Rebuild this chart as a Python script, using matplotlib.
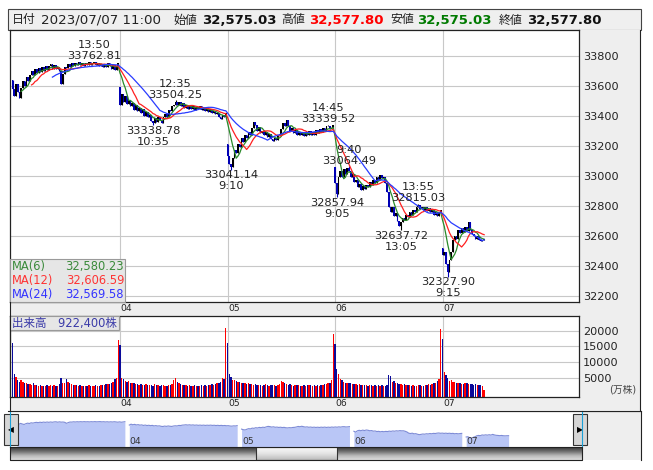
import numpy as np
import matplotlib.pyplot as plt
from matplotlib.patches import Rectangle
from matplotlib.lines import Line2D
from matplotlib.transforms import blended_transform_factory
from matplotlib.colors import LinearSegmentedColormap

plt.rcParams['font.family'] = ['DejaVu Sans', 'Noto Sans CJK JP']

# ---- data: 5-minute bars, 2023/07/03 .. 07/07 11:00 ----
days = ['03', '04', '05', '06', '07']
day_open = [33640, 33590, 33210, 33060, 32520]

close_03 = [33580, 33530, 33610, 33560, 33520, 33585, 33630, 33600, 33660, 33635, 33675,
            33700, 33670, 33710, 33685, 33720, 33695, 33725, 33700, 33730, 33705, 33735,
            33745, 33710, 33740, 33715, 33725, 33700, 33615, 33680, 33725,
            33720, 33745, 33728, 33750, 33735, 33755, 33738, 33758, 33740, 33752,
            33735, 33755, 33740, 33760, 33742, 33750, 33760, 33738, 33752, 33730,
            33748, 33725, 33745, 33728, 33750, 33732, 33712, 33738, 33708, 33730, 33753.33]
close_04 = [33470, 33545, 33495, 33530, 33480, 33505, 33465, 33485, 33440, 33470, 33430, 33455,
            33420, 33445, 33400, 33425, 33390, 33405, 33365, 33350,
            33385, 33360, 33395, 33370, 33355, 33390, 33410, 33395, 33440, 33430, 33465,
            33475, 33495, 33470, 33492, 33465, 33485, 33455,
            33475, 33448, 33468, 33445, 33465, 33440, 33460, 33445, 33465, 33440,
            33455, 33430, 33450, 33425, 33445, 33420, 33435, 33410, 33420, 33390, 33380,
            33405, 33395, 33422.52]
close_05 = [33130, 33080, 33060, 33120, 33170, 33150, 33215, 33195, 33250, 33225,
            33275, 33250, 33290, 33270, 33320, 33360, 33340, 33300, 33325, 33285, 33300, 33270,
            33290, 33260, 33280, 33245, 33230, 33255, 33240, 33270, 33280,
            33310, 33355, 33330, 33370, 33335,
            33300, 33320, 33285, 33305, 33275, 33295, 33270, 33290, 33268, 33295, 33275,
            33300, 33270, 33295, 33275, 33305, 33285, 33310, 33290, 33320, 33300, 33330,
            33335, 33310, 33320, 33338.70]
close_06 = [32950, 32880, 32990, 33030, 32995, 33045, 33010, 33055, 33035,
            32990, 33010, 32960, 32975, 32925, 32945, 32905, 32935, 32910, 32940,
            32925, 32960, 32940, 32975, 32955, 32990, 32970, 33005, 32985, 32990, 32950, 32890,
            32790, 32760, 32790, 32735, 32750, 32700, 32665, 32690,
            32720, 32705, 32740, 32725, 32760, 32740, 32775, 32760, 32790, 32805,
            32780, 32795, 32770, 32790, 32765, 32785, 32760, 32775, 32740, 32760, 32735,
            32755, 32773.02]
close_07 = [32470, 32490, 32410, 32360, 32440, 32490, 32570, 32600, 32580, 32640, 32620,
            32650, 32625, 32660, 32630, 32690, 32640, 32610, 32600, 32580, 32600, 32575,
            32565, 32575.03, 32577.80]

vol_03 = [16200, 6400, 5300, 4400, 3900, 4300, 3700, 3500, 3300, 3100, 3000, 2900, 3300, 2800,
          2700, 2600, 2700, 2600, 2500, 2600, 2700, 2500, 2900, 2600, 2800, 2500, 2600, 3000,
          4900, 3300, 3600,
          4600, 3900, 3400, 3000, 2900, 2800, 2700, 2600, 2700, 2500, 2600, 2600, 2500, 2700,
          2600, 2500, 2600, 2700, 2500, 2600, 2800, 2700, 2900, 3000, 3200, 3100, 3500, 3900,
          4600, 5000, 17000]
vol_04 = [15500, 5000, 4600, 4200, 3900, 4100, 3600, 3400, 3300, 3000, 3200, 2900, 3000, 2800,
          2900, 3000, 2700, 2800, 2900, 2600, 3100, 2800, 2700, 2600, 2800, 2700, 2500, 2600,
          2700, 2900, 3100,
          4300, 4900, 3900, 3300, 3000, 2900, 2800, 2700, 2600, 2800, 2600, 2500, 2700, 2600,
          2500, 2600, 2800, 2500, 2700, 2600, 2800, 2900, 3000, 2800, 3100, 3300, 3500, 3900,
          4900, 4600, 20800]
vol_05 = [16000, 6400, 5200, 4500, 4300, 4100, 3800, 3900, 3600, 3400, 3300, 3200, 3500, 3100,
          3000, 2900, 3000, 2800, 2700, 2900, 2600, 2800, 3000, 2700, 2600, 2800, 2700, 2900,
          2600, 2800, 3000,
          4200, 3800, 3300, 3000, 2900, 3100, 2700, 2600, 2800, 2900, 2700, 2600, 2500, 2700,
          2600, 2800, 2900, 2700, 2600, 2800, 2500, 2700, 2600, 2900, 2800, 3100, 3000, 3300,
          3600, 4300, 19000]
vol_06 = [15800, 8000, 6400, 4800, 4300, 3800, 3600, 3500, 3400, 3300, 3100, 3000, 3200, 2900,
          3000, 2800, 2900, 2700, 2800, 2600, 2700, 2800, 2600, 2700, 2500, 2800, 2600, 2700,
          2500, 2600, 2900,
          5900, 5600, 3900, 4200, 3600, 3400, 3100, 3200, 2900, 3000, 2800, 2700, 2900, 2600,
          2700, 2500, 2600, 2800, 2700, 2500, 2600, 2700, 2900, 3000, 2800, 3200, 3400, 3300,
          4000, 4800, 20500]
vol_07 = [17400, 7000, 5900, 4900, 4200, 4300, 3900, 3700, 3500, 3600, 3300, 3200, 3100, 3400,
          3300, 3000, 3200, 3100, 2900, 3000, 2800, 2900, 2700, 2600, 1300]

# marked highs / lows: (day, time, price, kind)
marks = [('03', '13:50', 33762.81, 'high'), ('04', '10:35', 33338.78, 'low'),
         ('04', '12:35', 33504.25, 'high'), ('05', '9:10', 33041.14, 'low'),
         ('05', '14:45', 33339.52, 'high'), ('06', '9:05', 32857.94, 'low'),
         ('06', '9:40', 33064.49, 'high'), ('06', '13:05', 32637.72, 'low'),
         ('06', '13:55', 32815.03, 'high'), ('07', '9:15', 32327.90, 'low')]

ma_periods = [6, 12, 24]
ma_colors = ['#2a8a2a', '#ff2020', '#2a3cff']
ma_text_colors = ['#3a8a3a', '#ff3333', '#3333ff']
ma_last = ['32,580.23', '32,606.59', '32,569.58']

price_ticks = [32200, 32400, 32600, 32800, 33000, 33200, 33400, 33600, 33800]
vol_ticks = [5000, 10000, 15000, 20000]

header = [(12, '日付', 8.6, 'normal', '#222222'),
          (41, '2023/07/07 11:00', 9.6, 'normal', '#222222'),
          (173, '始値', 8.6, 'normal', '#222222'),
          (202, '32,575.03', 9.5, 'bold', '#111111'),
          (281, '高値', 8.6, 'normal', '#222222'),
          (309, '32,577.80', 9.5, 'bold', '#ff0000'),
          (390, '安値', 8.6, 'normal', '#222222'),
          (417, '32,575.03', 9.5, 'bold', '#007a00'),
          (499, '終値', 8.6, 'normal', '#222222'),
          (527, '32,577.80', 9.5, 'bold', '#111111')]

# ---- derived series ----
closes = [close_03, close_04, close_05, close_06, close_07]
vols = [vol_03, vol_04, vol_05, vol_06, vol_07]
close = np.concatenate([np.array(c, float) for c in closes])
vol = np.concatenate([np.array(v, float) for v in vols])
n = len(close)
xi = np.arange(n)
day_start = np.cumsum([0] + [len(c) for c in closes[:-1]])

opens = np.r_[np.nan, close[:-1]]
opens[day_start] = day_open
hi = np.maximum(opens, close)
lo = np.minimum(opens, close)

slots = [f"{t // 60}:{t % 60:02d}" for t in list(range(540, 691, 5)) + list(range(750, 901, 5))]
mark_idx = []
for d, t, p, kind in marks:
    i = day_start[days.index(d)] + slots.index(t)
    mark_idx.append(i)
    if kind == 'high':
        hi[i] = p
    else:
        lo[i] = p

up = close >= opens
candle_col = np.where(up, '#000000', '#0000b4')
vol_col = np.where(up, '#ff0000', '#0a0a9a')

# ---- figure ----
W, H = 653, 470
fig = plt.figure(figsize=(W / 100, H / 100), dpi=100)


def box(x0, y0, x1, y1):
    return [x0 / W, 1 - y1 / H, (x1 - x0) / W, (y1 - y0) / H]


def rect(x0, y0, x1, y1, fc, ec='none', lw=0.0, z=-1):
    fig.add_artist(Rectangle((x0 / W, 1 - y1 / H), (x1 - x0) / W, (y1 - y0) / H,
                             transform=fig.transFigure, facecolor=fc, edgecolor=ec,
                             linewidth=lw, zorder=z))


def line(xs, ys, color='#222222', lw=0.8, z=6):
    fig.add_artist(Line2D([x / W for x in xs], [1 - y / H for y in ys],
                          transform=fig.transFigure, color=color, lw=lw, zorder=z))


grey = '#eeeeee'
rect(8, 9, 641, 30, '#efefef', '#444444', 0.8)
rect(579, 30, 640, 302, grey)
rect(10, 302, 640, 316, grey)
rect(579, 316, 640, 397, grey)
rect(10, 397, 640, 410, grey)
rect(582, 411, 641, 460, grey)

for x, t, s, w, c in header:
    fig.text(x / W, 1 - 20 / H, t, fontsize=s, fontweight=w, color=c, va='center', ha='left')

# ---- price panel ----
ax = fig.add_axes(box(10, 30, 579, 302))
xlim = (-1.45, 326.7)
ax.set_xlim(*xlim)
ax.set_ylim(32160, 33973)
ax.set_xticks(day_start[1:])
ax.set_yticks(price_ticks)
ax.grid(True, color='#c8c8c8', lw=0.8)
ax.set_axisbelow(True)
ax.yaxis.tick_right()
ax.tick_params(axis='x', length=0, labelbottom=False)
ax.tick_params(axis='y', length=0, pad=3, labelsize=8.1, labelcolor='#222222')
for s in ax.spines.values():
    s.set_color('#222222')
    s.set_linewidth(0.9)

ax.vlines(xi, lo, hi, colors=candle_col, linewidth=0.8, zorder=2)
ax.bar(xi, np.maximum(np.abs(close - opens), 4), bottom=np.minimum(opens, close),
       width=0.95, color=candle_col, linewidth=0, zorder=2, antialiased=False)

for p, c in zip(ma_periods, ma_colors):
    ma = np.convolve(close, np.ones(p) / p, mode='valid')
    ax.plot(xi[p - 1:], ma, color=c, lw=0.9, zorder=3)

for (d, t, p, kind), i in zip(marks, mark_idx):
    if kind == 'high':
        ax.annotate(f"{t}\n{p:.2f}", xy=(i, p), xytext=(0, 0.5), textcoords='offset points',
                    ha='center', va='bottom', fontsize=8.2, linespacing=1.12, color='#222222',
                    zorder=4)
    else:
        ax.annotate(f"{p:.2f}\n{t}", xy=(i, p), xytext=(0, -0.3), textcoords='offset points',
                    ha='center', va='top', fontsize=8.2, linespacing=1.12, color='#222222',
                    zorder=4)

# MA legend box
rect(10, 259, 125, 302, '#e6e6e6', '#9a9a9a', 0.8, z=2)
for k, (p, c, v) in enumerate(zip(ma_periods, ma_text_colors, ma_last)):
    yy = 1 - (266.5 + 14 * k) / H
    fig.text(11.5 / W, yy, f"MA({p})", color=c, fontsize=8.3, va='center', ha='left', zorder=3)
    fig.text(124 / W, yy, v, color=c, fontsize=8.3, va='center', ha='right', zorder=3)

# date strips
for yrow in (308.5, 403.5):
    tr = blended_transform_factory(ax.transData, fig.transFigure)
    for d, s in zip(days[1:], day_start[1:]):
        ax.text(s + 0.4, 1 - yrow / H, d, transform=tr, fontsize=6.6, color='#222222',
                va='center', ha='left', clip_on=False)

# ---- volume panel ----
vbot = -980
av = fig.add_axes(box(10, 316, 579, 397))
av.set_xlim(*xlim)
av.set_ylim(vbot, 24640)
av.set_xticks(day_start[1:])
av.set_yticks(vol_ticks)
av.grid(True, color='#c8c8c8', lw=0.8)
av.set_axisbelow(True)
av.yaxis.tick_right()
av.tick_params(axis='x', length=0, labelbottom=False)
av.tick_params(axis='y', length=0, pad=3, labelsize=8.1, labelcolor='#222222')
for s in av.spines.values():
    s.set_color('#222222')
    s.set_linewidth(0.9)
av.bar(xi, vol - vbot, bottom=vbot, width=0.8, color=vol_col, linewidth=0, zorder=2,
       antialiased=False)
fig.text(636 / W, 1 - 390 / H, '(万株)', fontsize=7, color='#444444', ha='right', va='center')

rect(10, 316, 119, 330, '#e6e6e6', '#9a9a9a', 0.8, z=2)
fig.text(11.5 / W, 1 - 323 / H, '出来高　922,400株', fontsize=8.3, color='#3a3aa8',
         va='center', ha='left', zorder=3)

line([640, 640], [30, 410])
line([10, 10], [302, 410])
line([10, 641], [410.5, 410.5])

# ---- navigator ----
nav = fig.add_axes(box(10, 411, 582, 447))
nav_bot, nav_top = 31630, 34650
nav.set_xlim(-3.96, 319.5)
nav.set_ylim(nav_bot, nav_top)
nav.axis('off')
for k, c in enumerate(closes):
    nx = k * 63.5 + np.arange(len(c))
    nav.fill_between(nx, c, nav_bot, color='#b9c6f6', lw=0)
    nav.plot(nx, c, color='#7d8bd6', lw=0.8)
    if k > 0:
        nav.text(k * 63.5 + 0.3, 32050, days[k], fontsize=6.6, color='#333333',
                 ha='left', va='center')
line([10, 10], [411, 447], color='#1aa0d8', lw=0.8)
line([582, 582], [411, 447], color='#1aa0d8', lw=0.8)

# arrow buttons
rect(4, 414, 18, 445, '#d6d6d6', '#333333', 0.8, z=3)
rect(573, 414, 587, 445, '#d6d6d6', '#333333', 0.8, z=3)
fig.text(11 / W, 1 - 429.5 / H, '◀', fontsize=5.5, ha='center', va='center', zorder=4)
fig.text(580 / W, 1 - 429.5 / H, '▶', fontsize=5.5, ha='center', va='center', zorder=4)

# scrollbar
sb = fig.add_axes(box(10, 447, 582, 460))
sb.axis('off')
metal = LinearSegmentedColormap.from_list('metal', ['#3a3a3a', '#707070', '#b8b8b8', '#dcdcdc'])
sb.imshow(np.linspace(0, 1, 24)[:, None], aspect='auto', cmap=metal, extent=(0, 1, 0, 1))
thumb = LinearSegmentedColormap.from_list('thumb', ['#fafafa', '#e4e4e4', '#bcbcbc'])
sb.imshow(np.linspace(0, 1, 24)[:, None], aspect='auto', cmap=thumb,
          extent=(0.43, 0.572, 0, 1))
sb.set_xlim(0, 1)
sb.set_ylim(0, 1)
sb.add_patch(Rectangle((0.43, 0), 0.142, 1, fill=False, ec='#333333', lw=0.8))
line([10, 582, 582, 10, 10], [447, 447, 460, 460, 447], color='#222222', lw=0.8)
line([8, 641, 641], [411, 411, 460], color='#222222', lw=0.8)

fig.savefig('out.png', dpi=100)
